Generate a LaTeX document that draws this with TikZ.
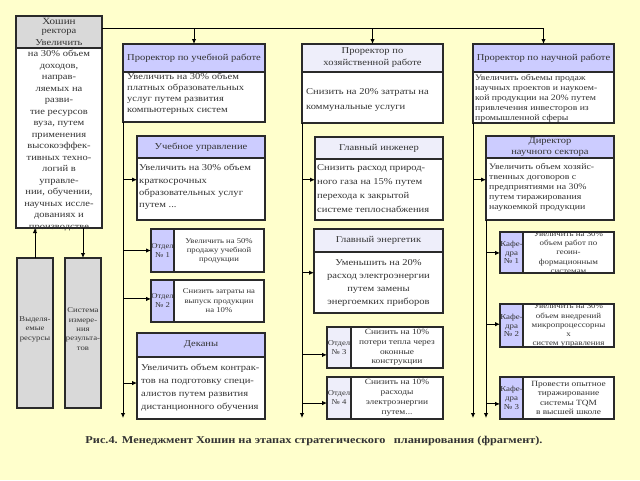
\documentclass[tikz,border=0pt]{standalone}
\usepackage{fontspec}
\setmainfont{Liberation Serif}[FakeStretch=1.17]
\usetikzlibrary{arrows.meta,calc}
\definecolor{bg}{HTML}{FFFFCC}
\definecolor{lav}{HTML}{CCCCFF}
\definecolor{lavl}{HTML}{EEEEFA}
\definecolor{grayf}{HTML}{D9D9D9}
\definecolor{ink}{HTML}{333333}
\definecolor{edge}{HTML}{2A2A2A}
\newcommand{\sz}[2]{\fontsize{#1}{#2}\selectfont}
\begin{document}
\begin{tikzpicture}[x=1pt,y=-1pt,
 frame/.style={draw=edge, line width=1.2pt, inner sep=0pt, outer sep=0pt, anchor=north west},
 hd/.style={frame, fill=lav},
 hdl/.style={frame, fill=lavl},
 wb/.style={frame, fill=white},
 gb/.style={frame, fill=grayf},
 tx/.style={inner sep=0pt, text=ink, align=left, anchor=west},
 ct/.style={inner sep=0pt, text=ink, align=center},
 link/.style={draw=black, line width=0.9pt},
 arr/.style={link, -{Latex[length=5pt,width=4.5pt]}},
 main/.style={font=\sz{9}{11}},
 hfont/.style={font=\sz{9}{12}},
 small/.style={font=\sz{7.4}{9}},
]
\fill[bg] (0,0) rectangle (640,480);
\useasboundingbox (0,0) rectangle (640,480);

% ---------- left column ----------
\node[gb, minimum width=86pt, minimum height=32pt] (rh) at (16,16) {};
\node[wb, minimum width=86pt, minimum height=180pt] (rb) at (16,48) {};
\node[gb, minimum width=36pt, minimum height=150pt] (res) at (17,258) {};
\node[gb, minimum width=36pt, minimum height=150pt] (sys) at (65,258) {};

% ---------- column 2 ----------
\node[hd, minimum width=142pt, minimum height=28pt] (c2h) at (123,44) {};
\node[wb, minimum width=142pt, minimum height=50pt] (c2b) at (123,72) {};
\node[hd, minimum width=128pt, minimum height=22pt] (uuh) at (137,136) {};
\node[wb, minimum width=128pt, minimum height=62pt] (uub) at (137,158) {};
\node[hd, minimum width=23pt, minimum height=43pt] (o1l) at (151,229) {};
\node[wb, minimum width=90pt, minimum height=43pt] (o1t) at (174,229) {};
\node[hd, minimum width=23pt, minimum height=42pt] (o2l) at (151,280) {};
\node[wb, minimum width=90pt, minimum height=42pt] (o2t) at (174,280) {};
\node[hd, minimum width=128pt, minimum height=24pt] (dkh) at (137,333) {};
\node[wb, minimum width=128pt, minimum height=62pt] (dkb) at (137,357) {};

% ---------- column 3 ----------
\node[hdl, minimum width=141pt, minimum height=28pt] (c3h) at (302,44) {};
\node[wb, minimum width=141pt, minimum height=51pt] (c3b) at (302,72) {};
\node[hdl, minimum width=128pt, minimum height=22pt] (gih) at (315,137) {};
\node[wb, minimum width=128pt, minimum height=61pt] (gib) at (315,159) {};
\node[hdl, minimum width=129pt, minimum height=23pt] (geh) at (314,229) {};
\node[wb, minimum width=129pt, minimum height=61pt] (geb) at (314,252) {};
\node[hdl, minimum width=24pt, minimum height=41pt] (o3l) at (327,327) {};
\node[wb, minimum width=92pt, minimum height=41pt] (o3t) at (351,327) {};
\node[hdl, minimum width=24pt, minimum height=42pt] (o4l) at (327,377) {};
\node[wb, minimum width=92pt, minimum height=42pt] (o4t) at (351,377) {};

% ---------- column 4 ----------
\node[hd, minimum width=141pt, minimum height=28pt] (c4h) at (473,44) {};
\node[wb, minimum width=141pt, minimum height=51pt] (c4b) at (473,72) {};
\node[hd, minimum width=128pt, minimum height=22pt] (drh) at (486,136) {};
\node[wb, minimum width=128pt, minimum height=62pt] (drb) at (486,158) {};
\node[hd, minimum width=23pt, minimum height=41pt] (k1l) at (500,232) {};
\node[wb, minimum width=91pt, minimum height=41pt] (k1t) at (523,232) {};
\node[hd, minimum width=23pt, minimum height=43pt] (k2l) at (500,304) {};
\node[wb, minimum width=91pt, minimum height=43pt] (k2t) at (523,304) {};
\node[hd, minimum width=23pt, minimum height=42pt] (k3l) at (500,377) {};
\node[wb, minimum width=91pt, minimum height=42pt] (k3t) at (523,377) {};

% ---------- texts ----------
\node[ct, font=\sz{9.5}{11}] (rhT1) at (59,21.5) {Хошин};
\node[ct, font=\sz{9}{11}] (rhT2) at (59,32.5) {ректора};
\node[ct, font=\sz{9}{11.5}] (rbT) at (59,135.5) {Увеличить\\на 30\% объем\\доходов,\\направ-\\ляемых на\\разви-\\тие ресурсов\\вуза, путем\\применения\\высокоэффек-\\тивных техно-\\логий в\\управле-\\нии, обучении,\\научных иссле-\\дованиях и\\производстве};
\node[ct, font=\sz{7.4}{9.5}] (resT) at (35,329) {Выделя-\\емые\\ресурсы};
\node[ct, font=\sz{7.4}{9.3}] (sysT) at (83,329) {Система\\измере-\\ния\\результа-\\тов};

\node[ct, hfont] (c2hT) at (c2h.center) {Проректор по учебной работе};
\node[tx, main] (c2bT) at (127,94) {Увеличить на 30\% объем\\платных образовательных\\услуг путем развития\\компьютерных систем};
\node[ct, hfont] (uuhT) at (uuh.center) {Учебное управление};
\node[tx, font=\sz{9}{12.3}] (uubT) at (139,187) {Увеличить на 30\% объем\\краткосрочных\\образовательных услуг\\путем ...};
\node[ct, small] (o1lT) at (o1l.center) {Отдел\\№ 1};
\node[ct, small] (o1tT) at (o1t.center) {Увеличить на 50\%\\продажу учебной\\продукции};
\node[ct, small] (o2lT) at (o2l.center) {Отдел\\№ 2};
\node[ct, font=\sz{7.4}{9.5}] (o2tT) at (o2t.center) {Снизить затраты на\\выпуск продукции\\на 10\%};
\node[ct, hfont] (dkhT) at (dkh.center) {Деканы};
\node[tx, font=\sz{9}{13}] (dkbT) at (141,388) {Увеличить объем контрак-\\тов на подготовку специ-\\алистов путем развития\\дистанционного обучения};

\node[ct, hfont] (c3hT) at (c3h.center) {Проректор по\\хозяйственной работе};
\node[tx, font=\sz{9}{15}] (c3bT) at (306,99.5) {Снизить на 20\% затраты на\\коммунальные услуги};
\node[ct, hfont] (gihT) at (gih.center) {Главный инженер};
\node[tx, font=\sz{9}{14}] (gibT) at (317,189) {Снизить расход природ-\\ного газа на 15\% путем\\перехода к закрытой\\системе теплоснабжения};
\node[ct, hfont] (gehT) at (geh.center) {Главный энергетик};
\node[ct, font=\sz{9}{13}] (gebT) at (geb.center) {Уменьшить на 20\%\\расход электроэнергии\\путем замены\\энергоемких приборов};
\node[ct, small] (o3lT) at (o3l.center) {Отдел\\№ 3};
\node[ct, font=\sz{8}{9.7}] (o3tT) at (o3t.center) {Снизить на 10\%\\потери тепла через\\оконные\\конструкции};
\node[ct, small] (o4lT) at (o4l.center) {Отдел\\№ 4};
\node[ct, font=\sz{8}{10}] (o4tT) at (o4t.center) {Снизить на 10\%\\расходы\\электроэнергии\\путем...};

\node[ct, hfont] (c4hT) at (c4h.center) {Проректор по научной работе};
\node[tx, font=\sz{8.3}{10}] (c4bT) at (475,98) {Увеличить объемы продаж\\научных проектов и наукоем-\\кой продукции на 20\% путем\\привлечения инвесторов из\\промышленной сферы};
\node[ct, font=\sz{9}{11}] (drhT) at (drh.center) {Директор\\научного сектора};
\node[tx, font=\sz{8.4}{10}] (drbT) at (489,187) {Увеличить объем хозяйс-\\твенных договоров с\\предприятиями на 30\%\\путем тиражирования\\наукоемкой продукции};
\node[ct, font=\sz{7.6}{8.8}] (k1lT) at (k1l.center) {Кафе-\\дра\\№ 1};
\node[ct, font=\sz{7.6}{9.2}] (k1tT) at (k1t.center) {Увеличить на 30\%\\объем работ по\\геоин-\\формационным\\системам};
\node[ct, font=\sz{7.6}{8.8}] (k2lT) at (k2l.center) {Кафе-\\дра\\№ 2};
\node[ct, font=\sz{7.6}{9.2}] (k2tT) at (k2t.center) {Увеличить на 30\%\\объем внедрений\\микропроцессорны\\х\\систем управления};
\node[ct, font=\sz{7.6}{8.8}] (k3lT) at (k3l.center) {Кафе-\\дра\\№ 3};
\node[ct, font=\sz{8}{9.3}] (k3tT) at (k3t.center) {Провести опытное\\тиражирование\\системы TQM\\в высшей школе};

\node[ct, font=\bfseries\sz{10.5}{12}] (cap) at (314,441) {Рис.4. Менеджмент Хошин на этапах стратегического\hspace{0.5em} планирования (фрагмент).};

% ---------- connectors ----------
\coordinate (t0) at ($(rh.north east)+(0,12)$);
\draw[link] (t0) -- (t0 -| c4h.north);
\draw[arr] (t0 -| c2h.north) -- (c2h.north);
\draw[arr] (t0 -| c3h.north) -- (c3h.north);
\draw[arr] (t0 -| c4h.north) -- (c4h.north);

\draw[arr] (res.north) -- (res.north |- rb.south);
\draw[arr] (sys.north |- rb.south) -- (sys.north);

\coordinate (c2e) at ($(c2b.south west)+(0,296)$);
\draw[arr] (c2b.south west) -- (c2e);
\coordinate (a1) at ($(uub.north west)!0.35!(uub.south west)$);
\coordinate (a2) at ($(o1l.north west)!0.5!(o1l.south west)$);
\coordinate (a3) at ($(o2l.north west)!0.45!(o2l.south west)$);
\coordinate (a4) at ($(dkb.north west)!0.42!(dkb.south west)$);
\foreach \p in {a1,a2,a3,a4} \draw[arr] (\p -| c2b.west) -- (\p);

\coordinate (c3e) at ($(c3b.south west)+(0,295)$);
\draw[arr] (c3b.south west) -- (c3e);
\coordinate (b1) at ($(gib.north west)!0.34!(gib.south west)$);
\coordinate (b2) at ($(geb.north west)!0.34!(geb.south west)$);
\coordinate (b3) at ($(o3l.north west)!0.68!(o3l.south west)$);
\coordinate (b4) at ($(o4l.north west)!0.62!(o4l.south west)$);
\foreach \p in {b1,b2,b3,b4} \draw[arr] (\p -| c3b.west) -- (\p);

\coordinate (c4e) at ($(c4b.south west)+(0,295)$);
\draw[arr] (c4b.south west) -- (c4e);
\coordinate (d1) at ($(drb.north west)!0.35!(drb.south west)$);
\draw[arr] (d1 -| c4b.west) -- (d1);
\coordinate (c4e2) at ($(drb.south west)+(0,198)$);
\draw[arr] (drb.south west) -- (c4e2);
\coordinate (e1) at ($(k1l.north west)!0.51!(k1l.south west)$);
\coordinate (e2) at ($(k2l.north west)!0.47!(k2l.south west)$);
\coordinate (e3) at ($(k3l.north west)!0.64!(k3l.south west)$);
\foreach \p in {e1,e2,e3} \draw[arr] (\p -| drb.west) -- (\p);
\end{tikzpicture}
\end{document}
